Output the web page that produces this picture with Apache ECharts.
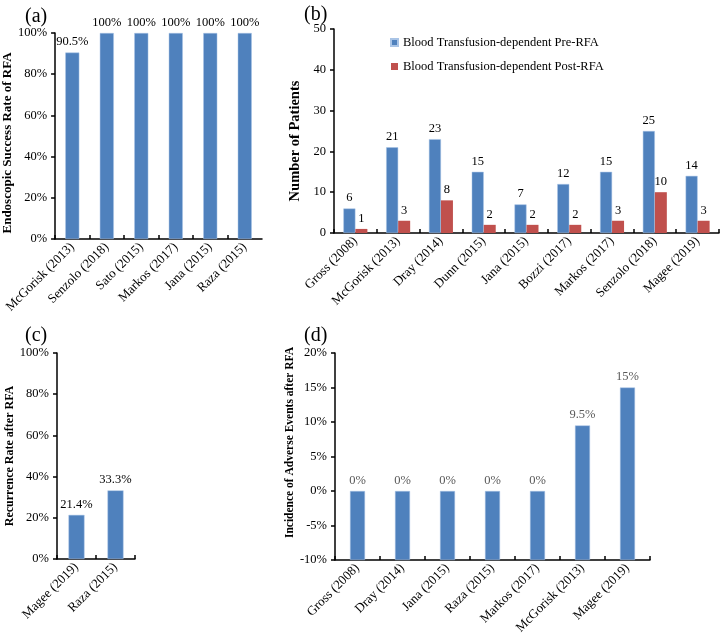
<!DOCTYPE html>
<html>
<head>
<meta charset="utf-8">
<script src="https://cdn.jsdelivr.net/npm/echarts@6/dist/echarts.min.js"></script>
<style>html,body{margin:0;padding:0;background:#fff;}#c{width:724px;height:638px;}</style>
</head>
<body>
<div id="c"></div>
<script>
// Panel (a)
const catsA = ['McGorisk (2013)','Senzolo (2018)','Sato (2015)','Markos (2017)','Jana (2015)','Raza (2015)'];
const valsA = [90.5,100,100,100,100,100];
const labelsA = ['90.5%','100%','100%','100%','100%','100%'];
// Panel (b)
const catsB = ['Gross (2008)','McGorisk (2013)','Dray (2014)','Dunn (2015)','Jana (2015)','Bozzi (2017)','Markos (2017)','Senzolo (2018)','Magee (2019)'];
const preB = [6,21,23,15,7,12,15,25,14];
const postB = [1,3,8,2,2,2,3,10,3];
// Panel (c)
const catsC = ['Magee (2019)','Raza (2015)'];
const valsC = [21.4,33.3];
// Panel (d)
const catsD = ['Gross (2008)','Dray (2014)','Jana (2015)','Raza (2015)','Markos (2017)','McGorisk (2013)','Magee (2019)'];
const valsD = [0,0,0,0,0,9.5,15];
const dMin = -10, dMax = 20;

const FONT = 'Liberation Serif';
const BLUE = '#4F81BD', RED = '#C0504D';
const axisLine = {show:true, lineStyle:{color:'#000', width:1.5}};
const xTick = {show:true, inside:true, length:4, lineStyle:{color:'#000', width:1.5}};
const yTick = {show:true, inside:false, length:4, lineStyle:{color:'#000', width:1.5}};
const tickLabel = {fontFamily:FONT, fontSize:12.5, color:'#000'};
const xLabel = {fontFamily:FONT, fontSize:13, color:'#000', rotate:45, interval:0, margin:6};
const yName = (fs, pad) => ({fontFamily:FONT, fontSize:fs, fontWeight:'bold', color:'#000', padding:pad});
const valLabel = {show:true, position:'top', fontFamily:FONT, fontSize:12.5, color:'#000', distance:4};

const chart = echarts.init(document.getElementById('c'), null, {renderer:'canvas'});
chart.setOption({
  backgroundColor:'#fff',
  animation:false,
  title:[
    {text:'(a)', left:20, top:2, textStyle:{fontFamily:FONT, fontSize:20, fontWeight:'normal', color:'#000'}},
    {text:'(b)', left:299, top:0, textStyle:{fontFamily:FONT, fontSize:20, fontWeight:'normal', color:'#000'}},
    {text:'(c)', left:20, top:321, textStyle:{fontFamily:FONT, fontSize:20, fontWeight:'normal', color:'#000'}},
    {text:'(d)', left:299, top:321, textStyle:{fontFamily:FONT, fontSize:20, fontWeight:'normal', color:'#000'}}
  ],
  legend:{
    orient:'vertical', left:385, top:31, itemWidth:7, itemHeight:7, itemGap:11,
    icon:'rect', textStyle:{fontFamily:FONT, fontSize:12.5, color:'#000'},
    data:['Blood Transfusion-dependent Pre-RFA','Blood Transfusion-dependent Post-RFA']
  },
  grid:[
    {left:55, top:33, width:207, height:206},
    {left:334, top:29, width:385, height:204},
    {left:57, top:353, width:78, height:206},
    {left:335, top:353, width:315, height:207}
  ],
  xAxis:[
    {type:'category', gridIndex:0, data:catsA, axisLine, axisTick:xTick, axisLabel:xLabel},
    {type:'category', gridIndex:1, data:catsB, axisLine, axisTick:xTick, axisLabel:xLabel},
    {type:'category', gridIndex:2, data:catsC, axisLine, axisTick:xTick, axisLabel:xLabel},
    {type:'category', gridIndex:3, data:catsD, axisLine, axisTick:xTick, axisLabel:xLabel}
  ],
  yAxis:[
    {type:'value', gridIndex:0, min:0, max:100, interval:20, axisLine, axisTick:yTick, splitLine:{show:false},
     axisLabel:Object.assign({}, tickLabel, {formatter:'{value}%', margin:8}),
     name:'Endoscopic Success Rate of RFA', nameLocation:'middle', nameGap:32, nameTextStyle:yName(13, [0,14,0,0])},
    {type:'value', gridIndex:1, min:0, max:50, interval:10, axisLine, axisTick:yTick, splitLine:{show:false},
     axisLabel:Object.assign({}, tickLabel, {margin:8}),
     name:'Number of Patients', nameLocation:'middle', nameGap:15, nameTextStyle:yName(14.5, [0,20,0,0])},
    {type:'value', gridIndex:2, min:0, max:100, interval:20, axisLine, axisTick:yTick, splitLine:{show:false},
     axisLabel:Object.assign({}, tickLabel, {formatter:'{value}%', margin:8}),
     name:'Recurrence Rate after RFA', nameLocation:'middle', nameGap:34, nameTextStyle:yName(12, [0,0,0,0])},
    {type:'value', gridIndex:3, min:0, max:dMax - dMin, interval:5, axisLine, axisTick:yTick, splitLine:{show:false},
     axisLabel:Object.assign({}, tickLabel, {formatter:v => (v + dMin) + '%', margin:8}),
     name:'Incidence of Adverse Events after RFA', nameLocation:'middle', nameGap:21, nameTextStyle:yName(11.5, [0,0,0,28])}
  ],
  series:[
    {type:'bar', xAxisIndex:0, yAxisIndex:0, data:valsA, barWidth:14,
     itemStyle:{color:BLUE, borderColor:'#a9c4e6', borderWidth:0.5},
     label:Object.assign({}, valLabel, {formatter:p => labelsA[p.dataIndex]})},
    {type:'bar', name:'Blood Transfusion-dependent Pre-RFA', xAxisIndex:1, yAxisIndex:1, data:preB, barWidth:12, barGap:'0%',
     itemStyle:{color:BLUE, borderColor:'#a9c4e6', borderWidth:0.5}, label:valLabel},
    {type:'bar', name:'Blood Transfusion-dependent Post-RFA', xAxisIndex:1, yAxisIndex:1, data:postB, barWidth:12, barGap:'0%',
     itemStyle:{color:RED}, label:valLabel},
    {type:'bar', xAxisIndex:2, yAxisIndex:2, data:valsC, barWidth:16,
     itemStyle:{color:BLUE, borderColor:'#a9c4e6', borderWidth:0.5},
     label:Object.assign({}, valLabel, {formatter:p => valsC[p.dataIndex] + '%'})},
    {type:'bar', xAxisIndex:3, yAxisIndex:3, data:valsD.map(v => v - dMin), barWidth:15,
     itemStyle:{color:BLUE, borderColor:'#a9c4e6', borderWidth:0.5},
     label:Object.assign({}, valLabel, {color:'#595959', formatter:p => valsD[p.dataIndex] + '%'})}
  ]
});
</script>
</body>
</html>
